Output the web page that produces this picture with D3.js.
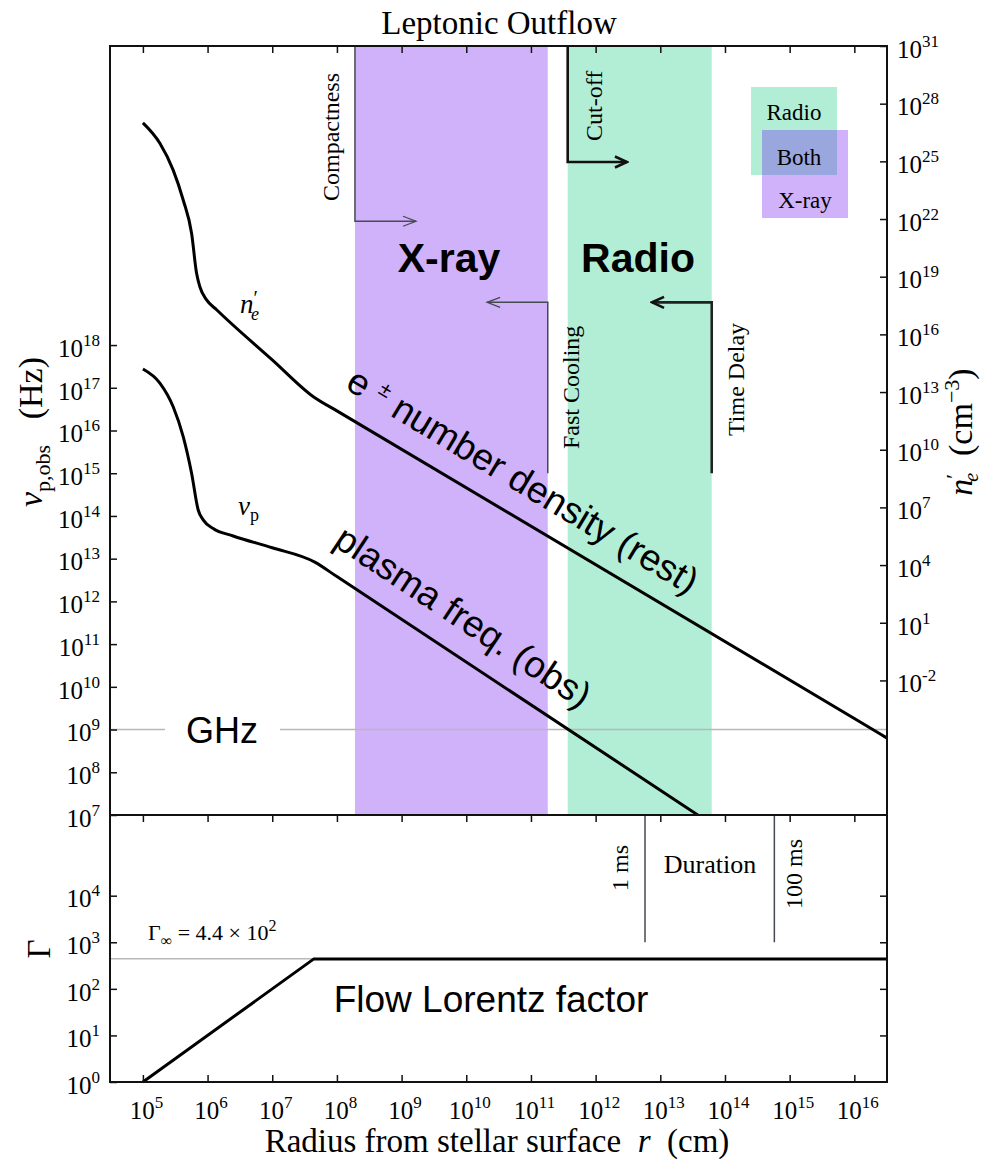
<!DOCTYPE html>
<html>
<head>
<meta charset="utf-8">
<script src="https://cdn.jsdelivr.net/npm/d3@7"></script>
<style>
  body { margin: 0; background: #fff; }
  text { font-family: "Liberation Serif", "Times New Roman", serif; fill: #000; }
  .sans { font-family: "Liberation Sans", Arial, sans-serif; }
</style>
</head>
<body>
<script>
// radius from stellar surface (cm)
var rDomain = [3.1e4, 3.2e16];
var rTicks = [1e5, 1e6, 1e7, 1e8, 1e9, 1e10, 1e11, 1e12, 1e13, 1e14, 1e15, 1e16];

// left axis: observed plasma frequency (Hz)
var nuDomain = [1e7, 1e25];
var nuTicks = [1e7, 1e8, 1e9, 1e10, 1e11, 1e12, 1e13, 1e14, 1e15, 1e16, 1e17, 1e18];
// right axis: rest-frame pair density (cm^-3)
var neDomain = [1e-9, 1e31];
var neTicks = [1e-2, 1e1, 1e4, 1e7, 1e10, 1e13, 1e16, 1e19, 1e22, 1e25, 1e28, 1e31];
// bottom panel: Lorentz factor
var gammaDomain = [1, 5.4e5];
var gammaTicks = [1, 10, 100, 1e3, 1e4];

// e+- number density curve
var neR   = [1e5, 1.83e5, 2.94e5, 4.2e5, 5.66e5, 6.76e5, 7.6e5, 9.66e5, 1.38e6, 1e7, 4.55e7, 1e8, 1e16, 3.2e16];
var neVal = [1e27, 8.7e25, 3.5e24, 9.8e22, 1.8e21, 1.5e19, 3.0e18, 6.2e17, 1.9e17, 4.7e14, 5e12, 1.05e12, 1.05e-4, 1.0e-5];

// plasma frequency curve (observer frame)
var nuR   = [1e5, 1.83e5, 2.94e5, 4.2e5, 5.66e5, 7.16e5, 8.55e5, 1.22e6, 2.49e6, 1e7, 4.55e7, 1e8, 4e13];
var nuVal = [2.75e17, 1.29e17, 3.6e16, 7.2e15, 1e15, 1.38e14, 8.1e13, 5.1e13, 3.4e13, 1.8e13, 8.3e12, 3.8e12, 9.5e6];

// flow Lorentz factor
var gammaR   = [1e5, 4.4e7, 3.2e16];
var gammaVal = [1, 440, 440];
var gammaInf = 440;

// emission regions (cm)
var xrayBand  = [1.9e8, 1.82e11];
var radioBand = [3.7e11, 6.24e13];

// duration markers
var durR = [5.8e12, 5.8e14];
var durLabels = ["1 ms", "100 ms"];

var W = 983, H = 1159;
var L = 110, R = 887, T = 46, MID = 815, B = 1082;
var purple = "rgba(98,0,242,0.3)", green = "rgba(0,198,118,0.3)";
var nb = "\u00a0";

var svg = d3.select("body").append("svg").attr("width", W).attr("height", H);

var x = d3.scaleLog().domain(rDomain).range([L, R]);
var yNu = d3.scaleLog().domain(nuDomain).range([MID, T]);
var yNe = d3.scaleLog().domain(neDomain).range([MID, T]);
var yG = d3.scaleLog().domain(gammaDomain).range([B, MID]);

svg.append("defs").append("clipPath").attr("id", "top")
  .append("rect").attr("x", L).attr("y", T).attr("width", R - L).attr("height", MID - T);
var defs = svg.select("defs");
function marker(id, len, half, w, col) {
  defs.append("marker").attr("id", id).attr("markerUnits", "userSpaceOnUse")
    .attr("viewBox", [-len - 2, -half - 2, len + 4, 2 * half + 4])
    .attr("markerWidth", len + 4).attr("markerHeight", 2 * half + 4)
    .attr("refX", 0).attr("refY", 0).attr("orient", "auto")
    .append("path").attr("d", "M" + (-len) + "," + (-half) + "L0,0L" + (-len) + "," + half)
    .attr("fill", "none").attr("stroke", col).attr("stroke-width", w);
}
marker("thin", 13, 5, 1.3, "#444a50");
marker("thick", 12, 5.5, 2.6, "#111");

// bands
svg.append("rect").attr("x", x(xrayBand[0])).attr("y", T)
  .attr("width", x(xrayBand[1]) - x(xrayBand[0])).attr("height", MID - T).attr("fill", purple);
svg.append("rect").attr("x", x(radioBand[0])).attr("y", T)
  .attr("width", x(radioBand[1]) - x(radioBand[0])).attr("height", MID - T).attr("fill", green);

// GHz reference line
svg.append("line").attr("x1", L).attr("x2", 165).attr("y1", yNu(1e9)).attr("y2", yNu(1e9))
  .attr("stroke", "#b8b8b8").attr("stroke-width", 1.5);
svg.append("line").attr("x1", 280).attr("x2", R).attr("y1", yNu(1e9)).attr("y2", yNu(1e9))
  .attr("stroke", "#b8b8b8").attr("stroke-width", 1.5);
svg.append("text").attr("class", "sans").attr("x", 222).attr("y", yNu(1e9) + 13)
  .attr("text-anchor", "middle").attr("font-size", 36).text("GHz");

// curves
var g = svg.append("g").attr("clip-path", "url(#top)");
var lineNe = d3.line().x(function(d) { return x(d[0]); }).y(function(d) { return yNe(d[1]); })
  .curve(d3.curveMonotoneX);
var lineNu = d3.line().x(function(d) { return x(d[0]); }).y(function(d) { return yNu(d[1]); })
  .curve(d3.curveMonotoneX);
g.append("path").datum(d3.zip(neR, neVal)).attr("d", lineNe)
  .attr("fill", "none").attr("stroke", "#000").attr("stroke-width", 3);
g.append("path").datum(d3.zip(nuR, nuVal)).attr("d", lineNu)
  .attr("fill", "none").attr("stroke", "#000").attr("stroke-width", 3);

var lineG = d3.line().x(function(d) { return x(d[0]); }).y(function(d) { return yG(d[1]); });
svg.append("line").attr("x1", L).attr("x2", x(gammaR[1])).attr("y1", yG(gammaInf)).attr("y2", yG(gammaInf))
  .attr("stroke", "#b8b8b8").attr("stroke-width", 1.5);
svg.append("path").datum(d3.zip(gammaR, gammaVal)).attr("d", lineG)
  .attr("fill", "none").attr("stroke", "#000").attr("stroke-width", 3);

// limit arrows
function limit(xv, y1, y2, xEnd, cls, col, w) {
  svg.append("path")
    .attr("d", "M" + x(xv) + "," + y1 + "L" + x(xv) + "," + y2 + "L" + x(xEnd) + "," + y2)
    .attr("fill", "none").attr("stroke", col).attr("stroke-width", w)
    .attr("marker-end", "url(#" + cls + ")");
}
limit(xrayBand[0], T, yNu(7.9e20), 1.67e9, "thin", "#444a50", 1.5);
limit(xrayBand[1], yNu(1e15), yNu(1e19), 2.1e10, "thin", "#444a50", 1.5);
limit(radioBand[0], T, yNu(1.93e22), 3.05e12, "thick", "#111", 2.6);
limit(radioBand[1], yNu(1e15), yNu(1e19), 7.45e12, "thick", "#222", 2.6);

function vtext(px, py, s, fs) {
  svg.append("text").attr("transform", "translate(" + px + "," + py + ") rotate(-90)")
    .attr("font-size", fs || 24).text(s);
}
vtext(x(xrayBand[0]) - 16, 201, "Compactness");
vtext(x(radioBand[0]) + 34, 141, "Cut-off");
vtext(x(xrayBand[1]) + 31, 449, "Fast Cooling");
vtext(x(radioBand[1]) + 32, 436, "Time Delay");

svg.append("text").attr("class", "sans").attr("font-weight", "bold").attr("font-size", 41)
  .attr("text-anchor", "middle").attr("x", 449).attr("y", 272).text("X-ray");
svg.append("text").attr("class", "sans").attr("font-weight", "bold").attr("font-size", 41)
  .attr("text-anchor", "middle").attr("x", 638).attr("y", 272).text("Radio");

// legend
svg.append("rect").attr("x", 751).attr("y", 87).attr("width", 86).attr("height", 88).attr("fill", green);
svg.append("rect").attr("x", 762).attr("y", 130).attr("width", 86).attr("height", 88).attr("fill", purple);
svg.append("text").attr("x", 794).attr("y", 120).attr("text-anchor", "middle").attr("font-size", 23).text("Radio");
svg.append("text").attr("x", 799).attr("y", 165).attr("text-anchor", "middle").attr("font-size", 23).text("Both");
svg.append("text").attr("x", 805).attr("y", 208).attr("text-anchor", "middle").attr("font-size", 23).text("X-ray");

// curve labels
var t1 = svg.append("text").attr("x", 240).attr("y", 313).attr("font-size", 27);
t1.append("tspan").attr("font-style", "italic").text("n");
t1.append("tspan").attr("dy", -8).attr("font-size", 20).text("\u2032");
t1.append("tspan").attr("dx", -7).attr("dy", 15).attr("font-size", 18).attr("font-style", "italic").text("e");
var t2 = svg.append("text").attr("x", 238).attr("y", 515).attr("font-size", 27);
t2.append("tspan").attr("font-style", "italic").text("\u03bd");
t2.append("tspan").attr("dy", 6).attr("font-size", 18).text("p");

var t3 = svg.append("text").attr("class", "sans").attr("font-size", 37)
  .attr("transform", "translate(344,388) rotate(31)");
t3.append("tspan").text("e" + nb);
t3.append("tspan").attr("dy", -13).attr("font-size", 21).text("\u00b1");
t3.append("tspan").attr("dy", 13).text(" number density (rest)");
svg.append("text").attr("class", "sans").attr("font-size", 37)
  .attr("transform", "translate(332,545) rotate(33.5)").text("plasma freq. (obs)");

// duration markers
durR.forEach(function(r, i) {
  svg.append("line").attr("x1", x(r)).attr("x2", x(r)).attr("y1", MID).attr("y2", yG(1e3))
    .attr("stroke", "#444a50").attr("stroke-width", 1.5);
});
vtext(x(durR[0]) - 17, 891, durLabels[0]);
vtext(x(durR[1]) + 28, 909, durLabels[1]);
svg.append("text").attr("x", 710).attr("y", 873).attr("text-anchor", "middle").attr("font-size", 26).text("Duration");

var t4 = svg.append("text").attr("x", 148).attr("y", 940).attr("font-size", 22);
t4.append("tspan").text("\u0393");
t4.append("tspan").attr("dy", 6).attr("font-size", 16).text("\u221e");
t4.append("tspan").attr("dy", -6).text(nb + "=" + nb + "4.4" + nb + "\u00d7" + nb + "10");
t4.append("tspan").attr("dy", -9).attr("font-size", 16).text("2");

svg.append("text").attr("class", "sans").attr("font-size", 37).attr("text-anchor", "middle")
  .attr("x", 491).attr("y", 1012).text("Flow Lorentz factor");

// axes
function sup(sel) {
  sel.each(function(d) {
    var e = Math.round(Math.log10(d));
    var t = d3.select(this).text("").attr("font-size", 25);
    t.append("tspan").text("10");
    t.append("tspan").attr("dy", -11).attr("font-size", 17).text(e < 0 ? "-" + (-e) : e);
  });
}
function axis(gen, tx, ty, labels) {
  var a = svg.append("g").attr("transform", "translate(" + tx + "," + ty + ")").call(gen);
  a.select(".domain").remove();
  a.selectAll(".tick line").attr("stroke", "#111").attr("stroke-width", 1.5);
  if (labels) a.selectAll(".tick text").call(sup); else a.selectAll(".tick text").remove();
  return a;
}
axis(d3.axisTop(x).tickValues(rTicks).tickSize(-7), 0, T, false);
axis(d3.axisTop(x).tickValues(rTicks).tickSize(-7), 0, MID, false);
var xb = axis(d3.axisBottom(x).tickValues(rTicks).tickSize(-7).tickPadding(12), 0, B, true);
xb.selectAll(".tick text").attr("dy", "1em").attr("dx", 3);
var yl = axis(d3.axisLeft(yNu).tickValues(nuTicks).tickSize(-7).tickPadding(10), L, 0, true);
yl.selectAll(".tick text").attr("dy", "0.45em");
var yr = axis(d3.axisRight(yNe).tickValues(neTicks).tickSize(-7).tickPadding(10), R, 0, true);
yr.selectAll(".tick text").attr("dy", "0.45em");
var gl = axis(d3.axisLeft(yG).tickValues(gammaTicks).tickSize(-7).tickPadding(10), L, 0, true);
gl.selectAll(".tick text").attr("dy", "0.45em");
axis(d3.axisRight(yG).tickValues(gammaTicks.slice(1)).tickSize(-7), R, 0, false);

// frames
svg.append("rect").attr("x", L).attr("y", T).attr("width", R - L).attr("height", MID - T)
  .attr("fill", "none").attr("stroke", "#111").attr("stroke-width", 2);
svg.append("rect").attr("x", L).attr("y", MID).attr("width", R - L).attr("height", B - MID)
  .attr("fill", "none").attr("stroke", "#111").attr("stroke-width", 2);

// titles
svg.append("text").attr("x", 499).attr("y", 34).attr("text-anchor", "middle").attr("font-size", 33)
  .text("Leptonic Outflow");
var xl = svg.append("text").attr("x", 497).attr("y", 1152).attr("text-anchor", "middle").attr("font-size", 33);
xl.append("tspan").text("Radius from stellar surface" + nb + nb);
xl.append("tspan").attr("font-style", "italic").text("r");
xl.append("tspan").text(nb + nb + "(cm)");

var ylab = svg.append("text").attr("text-anchor", "middle").attr("font-size", 34)
  .attr("transform", "translate(42,432) rotate(-90)");
ylab.append("tspan").attr("font-style", "italic").text("\u03bd");
ylab.append("tspan").attr("dy", 8).attr("font-size", 22).text("p,obs");
ylab.append("tspan").attr("dy", -8).text(nb + nb + nb + "(Hz)");

var yrlab = svg.append("text").attr("text-anchor", "middle").attr("font-size", 34)
  .attr("transform", "translate(972,432) rotate(-90)");
yrlab.append("tspan").attr("font-style", "italic").text("n");
yrlab.append("tspan").attr("dy", -11).attr("font-size", 22).text("\u2032");
yrlab.append("tspan").attr("dx", -8).attr("dy", 17).attr("font-size", 20).attr("font-style", "italic").text("e");
yrlab.append("tspan").attr("dy", -6).text(nb + nb + "(cm");
yrlab.append("tspan").attr("dy", -13).attr("font-size", 22).text("\u22123");
yrlab.append("tspan").attr("dy", 13).text(")");

svg.append("text").attr("transform", "translate(50,949) rotate(-90)").attr("text-anchor", "middle")
  .attr("font-size", 33).text("\u0393");
</script>
</body>
</html>
